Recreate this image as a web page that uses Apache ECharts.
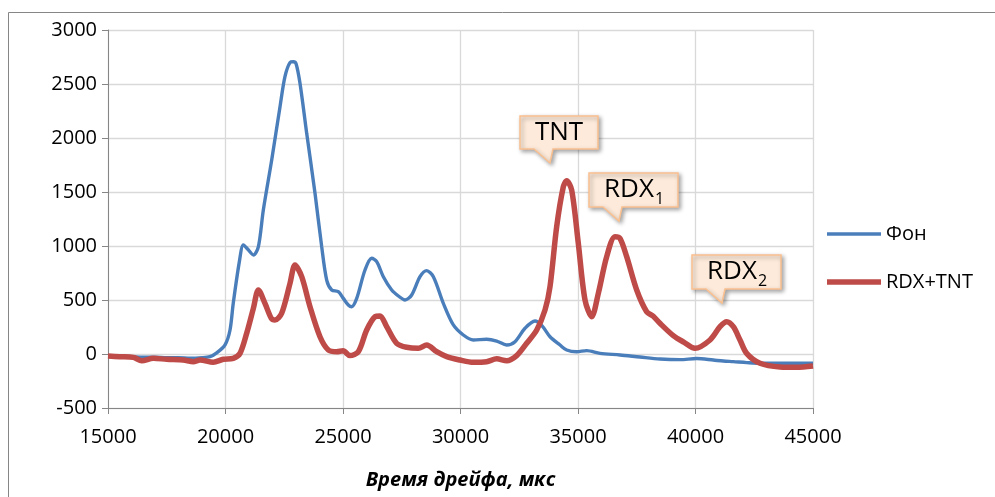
<!DOCTYPE html>
<html>
<head>
<meta charset="utf-8">
<script src="https://cdn.jsdelivr.net/npm/echarts@6/dist/echarts.min.js"></script>
<style>
html,body{margin:0;padding:0;background:#fff;}
#chart{width:995px;height:497px;}
</style>
</head>
<body>
<div id="chart"></div>
<script>
// Drift time, µs (x) and signal (y) for background "Фон"
var xFon = [15000,15500,16000,16500,17000,17500,18000,18500,19000,19340,19625,19980,20190,20330,20590,20760,20950,21190,21400,21610,21966,22320,22530,22750,22885,23000,23170,23455,23809,24093,24306,24519,24800,25013,25226,25370,25583,25936,26221,26434,26716,27072,27400,27638,27922,28277,28560,28845,29270,29695,30120,30545,31112,31540,31965,32319,32745,33170,33455,33809,34234,34518,34944,35370,35936,36787,37638,38489,39340,40050,40758,41183,41610,42177,42745,43596,44306,45000];
var yFon = [-15,-20,-25,-30,-30,-35,-35,-40,-35,-25,10,85,220,470,855,1010,970,917,994,1333,1796,2290,2568,2700,2706,2690,2506,2043,1488,994,685,593,577,515,454,438,515,778,886,855,716,593,530,500,546,716,772,716,469,269,176,130,136,120,83,114,238,305,265,160,83,37,21,31,6,-9,-28,-46,-52,-42,-56,-65,-71,-80,-86,-86,-86,-86];
// RDX+TNT
var xRdx = [15000,15500,16080,16434,16930,17500,18200,18630,18915,19480,19906,20330,20617,20900,21183,21400,21680,21950,22106,22390,22745,22957,23243,23596,24021,24375,24730,25000,25298,25652,26008,26362,26574,26858,27284,27710,28206,28560,28987,29413,29980,30545,31112,31540,31965,32390,32816,33243,33596,33809,34093,34376,34518,34731,35013,35298,35583,35865,36220,36574,36787,37072,37497,37922,38204,38489,39056,39500,39979,40617,41043,41327,41610,41894,42177,42745,43596,44306,45000];
var yRdx = [-19,-25,-31,-62,-40,-49,-56,-71,-56,-77,-49,-40,6,191,420,593,469,330,315,377,654,824,716,438,160,37,21,30,-15,21,222,345,352,253,99,62,53,83,21,-25,-56,-77,-71,-45,-62,-15,99,222,407,623,1179,1549,1605,1519,1025,500,345,562,901,1086,1071,901,593,392,350,284,170,110,53,130,253,299,253,130,6,-86,-120,-123,-111];

var seriesNames = ['Фон', 'RDX+TNT'];
var xTicks = [15000, 20000, 25000, 30000, 35000, 40000, 45000];
var yTicks = [-500, 0, 500, 1000, 1500, 2000, 2500, 3000];
var xTitle = 'Время дрейфа, мкс';

// Callouts: main text, subscript, anchor (pointer tip) in data coordinates
var calloutMain = ['TNT', 'RDX', 'RDX'];
var calloutSub = ['', '1', '2'];
var calloutX = [33809, 36745, 41128];
var calloutY = [1769, 1231, 472];

function pairs(xs, ys){ return xs.map(function(x,i){ return [x, ys[i]]; }); }

var FONT = '"Open Sans", "DejaVu Sans", sans-serif';
var BLUE = '#4A7EBB', RED = '#BE4B48';
var chart = echarts.init(document.getElementById('chart'), null, {renderer:'canvas'});

var option = {
  animation: false,
  backgroundColor: '#ffffff',
  grid: {left: 108, right: 182, top: 30, bottom: 89, containLabel: false},
  legend: {
    orient: 'vertical',
    left: 822, top: 219,
    itemWidth: 54, itemHeight: 14, itemGap: 28,
    textStyle: {fontFamily: FONT, fontSize: 20, color: '#000'},
    data: [
      {name: seriesNames[0], icon: 'path://M0,0H54V3.4H0Z', itemStyle: {color: BLUE}},
      {name: seriesNames[1], icon: 'path://M0,0H54V5.5H0Z', itemStyle: {color: RED}}
    ]
  },
  xAxis: {
    type: 'value', min: xTicks[0], max: xTicks[xTicks.length-1], interval: 5000,
    name: xTitle, nameLocation: 'middle', nameGap: 62,
    nameTextStyle: {fontFamily: FONT, fontSize: 20, fontWeight: 'bold', fontStyle: 'italic', color: '#000'},
    axisLine: {show: true, onZero: false, lineStyle: {color: '#868686', width: 1}},
    axisTick: {show: true, inside: false, length: 6, lineStyle: {color: '#868686'}},
    axisLabel: {fontFamily: FONT, fontSize: 20, color: '#000', margin: 19, formatter: function(v){ return String(v); }},
    splitLine: {show: true, lineStyle: {color: '#D9D9D9', width: 1.3}}
  },
  yAxis: {
    type: 'value', min: yTicks[0], max: yTicks[yTicks.length-1], interval: 500,
    axisLine: {show: true, onZero: false, lineStyle: {color: '#868686', width: 1}},
    axisTick: {show: true, inside: false, length: 6, lineStyle: {color: '#868686'}},
    axisLabel: {fontFamily: FONT, fontSize: 20, color: '#000', margin: 11, formatter: function(v){ return String(v); }},
    splitLine: {show: true, lineStyle: {color: '#D9D9D9', width: 1.3}}
  },
  series: [
    {name: seriesNames[0], type: 'line', data: pairs(xFon, yFon), smooth: 0.3, symbol: 'none',
     lineStyle: {color: BLUE, width: 3.4}, itemStyle: {color: BLUE}, z: 2},
    {name: seriesNames[1], type: 'line', data: pairs(xRdx, yRdx), smooth: 0.3, symbol: 'none',
     lineStyle: {color: RED, width: 5.5}, itemStyle: {color: RED}, z: 3}
  ]
};
chart.setOption(option);

// Build callouts from anchor data points
var measureCtx = document.createElement('canvas').getContext('2d');
function textW(t, size){ measureCtx.font = size + 'px ' + FONT; return measureCtx.measureText(t).width; }

var graphics = [];
// outer chart-area border (left/top visible)
graphics.push({type:'rect', shape:{x:8.5, y:12.5, width:1000, height:500}, style:{fill:'none', stroke:'#868686', lineWidth:1}, silent:true, z:0});

var mainSize = 26, subSize = 16;
for (var i = 0; i < calloutMain.length; i++) {
  var p = chart.convertToPixel({gridIndex: 0}, [calloutX[i], calloutY[i]]);
  var tx = p[0], ty = p[1];
  var mw = textW(calloutMain[i], mainSize);
  var sw = calloutSub[i] ? textW(calloutSub[i], subSize) : 0;
  var w = Math.round(mw + sw + 30);
  var h = calloutSub[i] ? 34 : 33;
  var boxL = tx - 30, boxT = ty - 14 - h, boxB = boxT + h;
  var baseL = tx - 16, baseR = tx + 3;
  graphics.push({
    type: 'polygon', z: 10,
    shape: {points: [[boxL, boxT],[boxL + w, boxT],[boxL + w, boxB],[baseR, boxB],[tx, ty],[baseL, boxB],[boxL, boxB]]},
    style: {fill: '#FDEADA', stroke: '#FAC090', lineWidth: 1.5,
            shadowBlur: 4, shadowOffsetX: 2, shadowOffsetY: 2, shadowColor: 'rgba(0,0,0,0.35)'}
  });
  var startX = boxL + (w - mw - sw) / 2;
  var midY = boxT + h / 2;
  graphics.push({type:'text', z: 11, style:{text: calloutMain[i], x: startX, y: midY, fill:'#000',
    font: mainSize + 'px ' + FONT, textAlign:'left', textVerticalAlign:'middle'}});
  if (calloutSub[i]) {
    graphics.push({type:'text', z: 11, style:{text: calloutSub[i], x: startX + mw + 1, y: midY + 9, fill:'#000',
      font: subSize + 'px ' + FONT, textAlign:'left', textVerticalAlign:'middle'}});
  }
}
chart.setOption({graphic: graphics});
</script>
</body>
</html>
